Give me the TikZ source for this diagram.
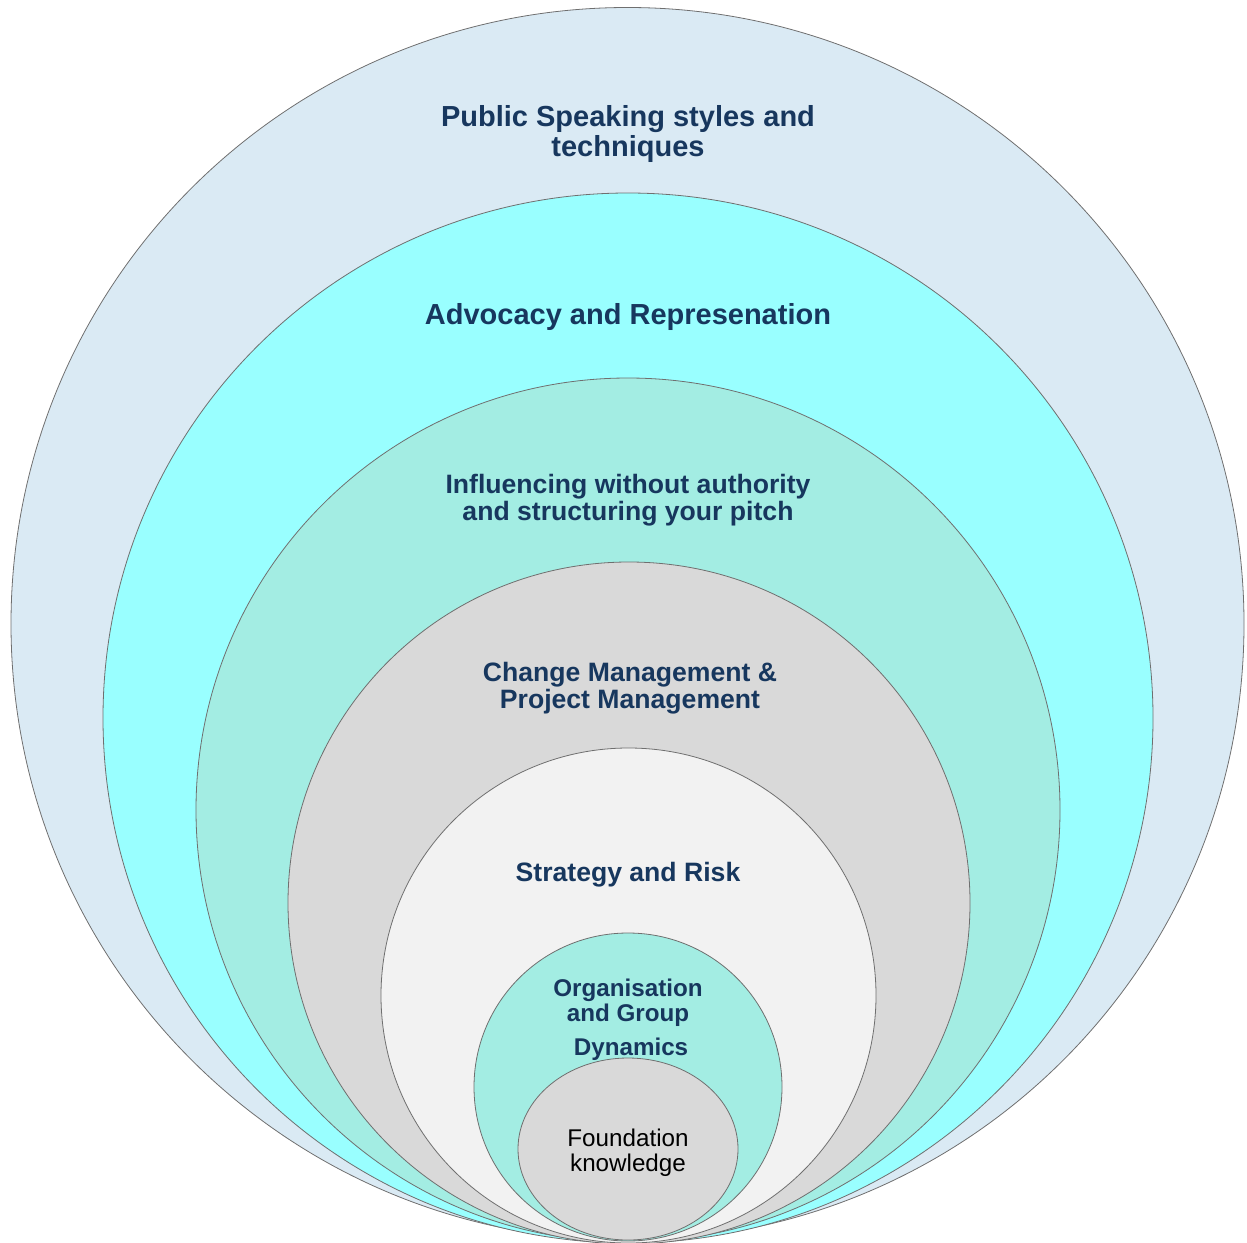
\documentclass[tikz,border=0pt]{standalone}
\usepackage{fontspec}
\setmainfont{Liberation Sans}
\usetikzlibrary{shapes.geometric}
\definecolor{ring1}{HTML}{DAEAF4}
\definecolor{ring2}{HTML}{99FFFF}
\definecolor{ring3}{HTML}{A3EDE3}
\definecolor{ring4}{HTML}{D9D9D9}
\definecolor{ring5}{HTML}{F2F2F2}
\definecolor{edgegray}{HTML}{6F6F6F}
\definecolor{navy}{HTML}{17375E}
\tikzset{
  ringnode/.style={circle, draw=edgegray, line width=0.8pt, inner sep=0pt},
  bigtext/.style={text=navy, align=center, font=\fontsize{29}{30}\selectfont\bfseries},
  midtext/.style={text=navy, align=center, font=\fontsize{26.6}{27}\selectfont\bfseries},
  smalltext/.style={text=navy, align=center, font=\fontsize{24.2}{25}\selectfont\bfseries},
  plaintext/.style={text=black, align=center, font=\fontsize{24.2}{25}\selectfont}
}
\begin{document}
\begin{tikzpicture}[x=1pt,y=-1pt]
\useasboundingbox (0,0) rectangle (1247,1242);
\node[ringnode, fill=ring1, minimum size=1233pt] (c1) at (627.5,624) {};
\node[ringnode, fill=ring2, minimum size=1050pt] (c2) at (628,718) {};
\node[ringnode, fill=ring3, minimum size=864pt] (c3) at (628,810) {};
\node[ringnode, fill=ring4, minimum size=682pt] (c4) at (629,903) {};
\node[ringnode, fill=ring5, minimum size=495pt] (c5) at (628.5,995.5) {};
\node[ringnode, fill=ring3, minimum size=308pt] (c6) at (628,1087) {};
\node[ellipse, draw=edgegray, line width=0.8pt, inner sep=0pt, fill=ring4, minimum width=220pt, minimum height=182pt] (c7) at (628,1149) {};
\node[bigtext] (t1) at (628,134) {Public Speaking styles and\\techniques};
\node[bigtext] (t2) at (628,317) {Advocacy and Represenation};
\node[midtext] (t3) at (628,500.5) {Influencing without authority\\and structuring your pitch};
\node[midtext] (t4) at (630,688.5) {Change Management \&\\Project Management};
\node[midtext] (t5) at (628,875) {Strategy and Risk};
\node[smalltext] (t6) at (628,1003) {Organisation\\and Group};
\node[smalltext] (t6b) at (631,1049.5) {Dynamics};
\node[plaintext] (t7) at (628,1153) {Foundation\\knowledge};
\end{tikzpicture}
\end{document}
